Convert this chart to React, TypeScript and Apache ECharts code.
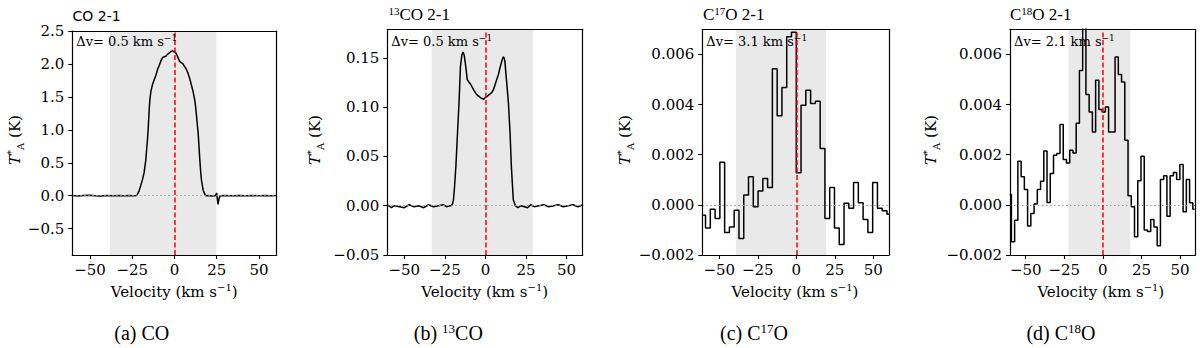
import { useEffect, useRef } from 'react';
import * as echarts from 'echarts';

// ---------- CO 2-1 ----------
const coVel = [-60.5, -57, -54, -50, -47, -44, -40, -36, -33, -30, -27, -24, -22.5, -22, -21, -20, -19, -18, -17, -16.5, -16, -15.6, -15, -14.6, -14, -13, -12, -11, -10, -9, -8, -7, -6, -5, -4, -3, -2, -1, 0, 1, 2, 3, 4, 5, 6, 7, 8, 9, 10, 11, 12, 12.5, 13, 13.5, 14, 14.5, 15, 15.5, 16, 17, 18, 18.5, 20, 22, 24, 24.6, 25, 25.4, 25.8, 26.3, 27, 30, 34, 38, 42, 46, 50, 54, 57, 60.5];
const coT = [0.003, -0.004, 0.002, 0.006, 0.0, -0.003, 0.002, 0.0, 0.004, -0.002, 0.003, 0.0, 0.002, 0.02, 0.07, 0.15, 0.24, 0.35, 0.54, 0.7, 0.85, 1.0, 1.3, 1.45, 1.58, 1.69, 1.76, 1.83, 1.92, 1.98, 2.05, 2.1, 2.11, 2.12, 2.15, 2.17, 2.19, 2.2, 2.18, 2.16, 2.1, 2.04, 2.02, 2.0, 1.96, 1.92, 1.86, 1.78, 1.68, 1.58, 1.45, 1.35, 1.22, 1.08, 0.95, 0.75, 0.54, 0.36, 0.23, 0.08, 0.02, 0.0, 0.002, -0.003, 0.0, 0.02, 0.04, -0.06, -0.13, -0.05, 0.0, 0.003, -0.002, 0.002, 0.0, 0.003, -0.002, 0.002, 0.0, 0.002];

// ---------- 13CO 2-1 ----------
const c13Vel = [-60.5, -58, -56, -53, -50, -47, -44, -41, -38, -35, -32, -29, -26, -24, -22, -21, -20.3, -19.7, -19, -18.2, -17.2, -16.2, -15.4, -14.5, -13.8, -13.1, -12.4, -11.9, -11.2, -10, -9, -7.4, -5.5, -4, -2.5, -1, 0, 1, 2.5, 4, 5, 6, 7, 8, 9, 10, 10.7, 11.3, 12, 12.7, 13.5, 14.2, 15.2, 16, 17.2, 18.5, 20, 22, 24, 26, 28, 30, 33, 36, 39, 42, 45, 48, 51, 54, 57, 60.2];
const c13T = [0.001, -0.002, 0.0, -0.001, -0.002, 0.001, -0.001, 0.0, -0.002, 0.001, -0.001, 0.0, 0.001, -0.001, 0.0, 0.0, 0.002, 0.006, 0.02, 0.04, 0.074, 0.107, 0.141, 0.153, 0.156, 0.153, 0.145, 0.138, 0.128, 0.125, 0.123, 0.118, 0.113, 0.111, 0.109, 0.108, 0.11, 0.111, 0.113, 0.115, 0.118, 0.123, 0.128, 0.133, 0.14, 0.146, 0.15, 0.151, 0.147, 0.133, 0.118, 0.104, 0.074, 0.04, 0.006, 0.0, -0.002, 0.0, -0.001, -0.002, 0.001, -0.001, 0.0, 0.001, -0.001, 0.0, 0.001, -0.001, 0.0, 0.001, -0.001, 0.001];

// ---------- C17O 2-1 (channel centres, 3.1 km/s) ----------
const c17Vel = [-60.45, -57.35, -54.25, -51.15, -48.05, -44.95, -41.85, -38.75, -35.65, -32.55, -29.45, -26.35, -23.25, -20.15, -17.05, -13.95, -10.85, -7.75, -4.65, -1.55, 1.55, 4.65, 7.75, 10.85, 13.95, 17.05, 20.15, 23.25, 26.35, 29.45, 32.55, 35.65, 38.75, 41.85, 44.95, 48.05, 51.15, 54.25, 57.35, 60.45];
const c17T = [-0.00041, -0.00092, -0.00018, -0.00054, 0.0017, -0.0011, -0.00088, -0.00022, -0.00134, 0.00039, 0.00112, -0.00008, 0.00055, 0.00105, 0.00069, 0.00543, 0.00355, 0.00468, 0.0067, 0.00688, 0.00128, 0.00397, 0.00457, 0.00404, 0.00413, 0.00225, -0.00054, 0.00069, -0.00092, -0.00158, 0.00006, -0.00014, 0.00089, 0.00008, -0.00058, -0.0011, 0.00089, -0.00014, -0.00024, -0.00038];

// ---------- C18O 2-1 (channel centres, 2.1 km/s) ----------
const c18Vel = [-60.35, -58.25, -56.15, -54.05, -51.95, -49.85, -47.75, -45.65, -43.55, -41.45, -39.35, -37.25, -35.15, -33.05, -30.95, -28.85, -26.75, -24.65, -22.55, -20.45, -18.35, -16.25, -14.15, -12.05, -9.95, -7.85, -5.75, -3.65, -1.55, 0.55, 2.65, 4.75, 6.85, 8.95, 11.05, 13.15, 15.25, 17.35, 19.45, 21.55, 23.65, 25.75, 27.85, 29.95, 32.05, 34.15, 36.25, 38.35, 40.45, 42.55, 44.65, 46.75, 48.85, 50.95, 53.05, 55.15, 57.25, 59.35];
const c18T = [0.00041, -0.00147, -0.00061, 0.00174, 0.00112, 0.00061, -0.00084, -0.00035, 0.00003, 0.00061, 0.00094, 0.00215, 0.00009, 0.00125, 0.00198, 0.00205, 0.0032, 0.00181, 0.00167, 0.00218, 0.00207, 0.00325, 0.00536, 0.0085, 0.0044, 0.0037, 0.0029, 0.00497, 0.0038, 0.0037, 0.0039, 0.0029, 0.0029, 0.0059, 0.0052, 0.0049, 0.00258, 0.00036, -0.00008, -0.00127, 0.00096, 0.00194, -0.001, -0.00106, -0.00058, -0.00088, -0.00163, 0.00101, 0.00116, -0.00045, 0.00116, 0.00129, 0.00101, 0.00161, -0.00028, 0.00101, 0.00008, -0.00018];

// ---------- ticks, spans, annotations ----------
const xTicks = [-50, -25, 0, 25, 50];
const yTicksCO = [-0.5, 0, 0.5, 1, 1.5, 2, 2.5];
const yTicks13 = [-0.05, 0, 0.05, 0.1, 0.15];
const yTicksC = [-0.002, 0, 0.002, 0.004, 0.006];
const spanCO = [-38.2, 24.8];
const span13 = [-33.1, 29.2];
const span17 = [-39.2, 19.3];
const span18 = [-22.3, 17.7];
const dvLabels = ['0.5', '0.5', '3.1', '2.1'];
const titles = ['CO 2-1', '{sup|13}CO 2-1', 'C{sup|17}O 2-1', 'C{sup|18}O 2-1'];
const captions = ['(a) CO', '(b) {sup|13}CO', '(c) C{sup|17}O', '(d) C{sup|18}O'];

const MINUS = '\u2212';
const fmt = (d: number) => (v: number) => (v < -1e-12 ? MINUS : '') + Math.abs(v).toFixed(d);
const zip = (a: number[], b: number[]) => a.map((v, i) => [v, b[i]]);

const SERIF = "'DejaVu Serif', serif";
const TIMES = "'Liberation Serif', serif";

export default function App() {
  const ref = useRef<HTMLDivElement>(null);
  useEffect(() => {
    const chart = echarts.init(ref.current!, null, { renderer: 'svg' });
    const panels = [
      { left: 72.3, top: 31, width: 204.4, height: 224, xMin: -60.5, xMax: 60.5, yMin: -0.9, yMax: 2.5, yTicks: yTicksCO, dec: 1, span: spanCO, data: zip(coVel, coT), step: false },
      { left: 387.3, top: 29.3, width: 195.4, height: 225.7, xMin: -60.5, xMax: 60, yMin: -0.05, yMax: 0.179, yTicks: yTicks13, dec: 2, span: span13, data: zip(c13Vel, c13T), step: false },
      { left: 702.3, top: 29.3, width: 186.7, height: 225.7, xMin: -61, xMax: 60.2, yMin: -0.002, yMax: 0.007, yTicks: yTicksC, dec: 3, span: span17, data: zip(c17Vel, c17T), step: true },
      { left: 1010, top: 29.3, width: 185.3, height: 225.7, xMin: -60.2, xMax: 59.9, yMin: -0.002, yMax: 0.007, yTicks: yTicksC, dec: 3, span: span18, data: zip(c18Vel, c18T), step: true },
    ];
    const axLine = { show: true, onZero: false, lineStyle: { color: '#000', width: 1.2 } };
    const grid: any[] = [];
    const xAxis: any[] = [];
    const yAxis: any[] = [];
    const series: any[] = [];
    panels.forEach((p, i) => {
      grid.push({ left: p.left, top: p.top, width: p.width, height: p.height, containLabel: false });
      xAxis.push({
        type: 'value', gridIndex: i, min: p.xMin, max: p.xMax, position: 'bottom', z: 10,
        axisLine: axLine,
        axisTick: { show: true, inside: false, length: 4, customValues: xTicks, lineStyle: { color: '#000', width: 1.1 } },
        axisLabel: { show: true, customValues: xTicks, formatter: fmt(0), fontFamily: SERIF, fontSize: 15, color: '#000', margin: 7, hideOverlap: false },
        splitLine: { show: false },
      });
      xAxis.push({
        type: 'value', gridIndex: i, min: p.xMin, max: p.xMax, position: 'top', z: 10,
        axisLine: axLine, axisTick: { show: false }, axisLabel: { show: false }, splitLine: { show: false },
      });
      yAxis.push({
        type: 'value', gridIndex: i, min: p.yMin, max: p.yMax, position: 'left', z: 10,
        axisLine: axLine,
        axisTick: { show: true, inside: false, length: 4, customValues: p.yTicks, lineStyle: { color: '#000', width: 1.1 } },
        axisLabel: { show: true, customValues: p.yTicks, formatter: fmt(p.dec), fontFamily: SERIF, fontSize: 15, color: '#000', margin: 8, hideOverlap: false },
        splitLine: { show: false },
      });
      yAxis.push({
        type: 'value', gridIndex: i, min: p.yMin, max: p.yMax, position: 'right', z: 10,
        axisLine: axLine, axisTick: { show: false }, axisLabel: { show: false }, splitLine: { show: false },
      });
      // background: grey span + dotted zero line
      series.push({
        type: 'line', xAxisIndex: 2 * i, yAxisIndex: 2 * i, data: p.data, showSymbol: false, symbol: 'none', silent: true, z: 1,
        lineStyle: { opacity: 0 },
        markArea: { silent: true, itemStyle: { color: '#e9e9e9' }, data: [[{ xAxis: p.span[0] }, { xAxis: p.span[1] }]] },
        markLine: {
          silent: true, symbol: ['none', 'none'], label: { show: false },
          lineStyle: { color: '#9a9a9a', type: [1.5, 2.5], width: 1.2 },
          data: [{ yAxis: 0 }],
        },
      });
      // spectrum
      series.push({
        type: 'line', xAxisIndex: 2 * i, yAxisIndex: 2 * i, data: p.data, showSymbol: false, symbol: 'none', z: 3,
        step: p.step ? 'middle' : false, clip: true,
        lineStyle: { color: '#000', width: 1.5 },
      });
      // red dashed line at v=0
      series.push({
        type: 'line', xAxisIndex: 2 * i, yAxisIndex: 2 * i, data: p.data, showSymbol: false, symbol: 'none', silent: true, z: 4,
        lineStyle: { opacity: 0 },
        markLine: {
          silent: true, symbol: ['none', 'none'], label: { show: false },
          lineStyle: { color: '#ff0000', type: [5, 2.5], width: 1.5 },
          data: [{ xAxis: 0 }],
        },
      });
    });

    const graphic: any[] = [];
    const supS = (size: number, font: string) => ({ fontSize: size, fontFamily: font, fill: '#000', verticalAlign: 'top', lineHeight: size });
    // titles
    const titleX = [72.5, 388.5, 703, 1010];
    const titleY = [16, 14, 14, 14];
    titles.forEach((t, i) => {
      const sans = i === 0;
      graphic.push({
        type: 'text', x: titleX[i], y: titleY[i],
        style: {
          text: t, fill: '#000', fontFamily: sans ? "'DejaVu Sans', sans-serif" : TIMES, fontSize: sans ? 14 : 17,
          align: 'left', verticalAlign: 'middle', lineHeight: 18,
          rich: { sup: supS(11, TIMES) },
        },
      });
    });
    // delta-v annotations
    panels.forEach((p, i) => {
      graphic.push({
        type: 'text', x: p.left + 4, y: 41.5, z: 100,
        style: {
          text: `\u0394v= ${dvLabels[i]} km s{sup|${MINUS}1}`, fill: '#000', fontFamily: SERIF, fontSize: 13,
          align: 'left', verticalAlign: 'middle', lineHeight: 16,
          rich: { sup: supS(9, SERIF) },
        },
      });
    });
    // x labels
    const xlabX = [174.2, 484.7, 795, 1100.8];
    xlabX.forEach((x) => {
      graphic.push({
        type: 'text', x, y: 292,
        style: {
          text: `Velocity (km s{sup|${MINUS}1})`, fill: '#000', fontFamily: SERIF, fontSize: 15,
          align: 'center', verticalAlign: 'middle', lineHeight: 19,
          rich: { sup: supS(10, SERIF) },
        },
      });
    });
    // y labels
    const ylabX = [15, 315, 625, 931];
    ylabX.forEach((x) => {
      graphic.push({
        type: 'text', x, y: 140, rotation: Math.PI / 2,
        style: {
          text: '{it|T}{sup|*}{sub|A} (K)', fill: '#000', fontFamily: SERIF, fontSize: 15,
          align: 'center', verticalAlign: 'middle', lineHeight: 20,
          rich: {
            it: { fontStyle: 'italic', fontFamily: SERIF, fontSize: 15, fill: '#000' },
            sup: { fontSize: 10, fontFamily: SERIF, fill: '#000', verticalAlign: 'top', lineHeight: 10 },
            sub: { fontSize: 10, fontFamily: SERIF, fill: '#000', verticalAlign: 'bottom', lineHeight: 10 },
          },
        },
      });
    });
    // captions
    const capX = [141.7, 448.3, 754, 1061];
    captions.forEach((c, i) => {
      graphic.push({
        type: 'text', x: capX[i], y: 333,
        style: {
          text: c, fill: '#000', fontFamily: TIMES, fontSize: 20,
          align: 'center', verticalAlign: 'middle', lineHeight: 22,
          rich: { sup: supS(13, TIMES) },
        },
      });
    });

    chart.setOption({
      animation: false,
      backgroundColor: '#fff',
      grid, xAxis, yAxis, series, graphic,
    });
    return () => chart.dispose();
  }, []);
  return <div ref={ref} style={{ position: 'absolute', left: 0, top: 0, width: 1200, height: 348, background: '#fff' }} />;
}
